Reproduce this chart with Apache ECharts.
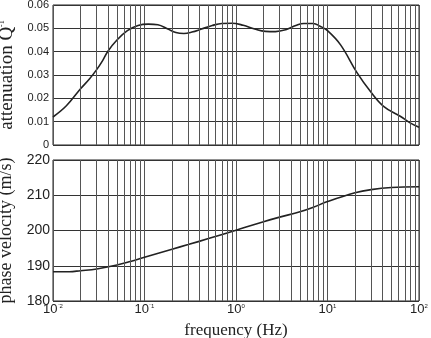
<!DOCTYPE html>
<html>
<head>
<meta charset="utf-8">
<script src="https://cdn.jsdelivr.net/npm/echarts@6/dist/echarts.min.js"></script>
<style>
  html, body { margin: 0; padding: 0; background: #fff; }
  #chart { width: 431px; height: 338px; }
</style>
</head>
<body>
<div id="chart"></div>
<script>
// frequency (Hz) / attenuation Q^-1
const attFreq = [0.01, 0.014, 0.02, 0.025, 0.03, 0.035, 0.04, 0.05, 0.065, 0.085, 0.11, 0.14, 0.18, 0.22, 0.27, 0.33, 0.42, 0.55, 0.7, 0.9, 1.2, 1.6, 2.1, 2.7, 3.5, 4.5, 5.5, 7, 8.3, 10, 13.9, 21, 29.5, 41, 63, 80, 100];
const attValue = [0.012, 0.0168, 0.0241, 0.0283, 0.0323, 0.0363, 0.0403, 0.045, 0.049, 0.0512, 0.0518, 0.0515, 0.0497, 0.0482, 0.0478, 0.0484, 0.0497, 0.0512, 0.0521, 0.0522, 0.0513, 0.0497, 0.0487, 0.0486, 0.0494, 0.0512, 0.0521, 0.0521, 0.0509, 0.049, 0.0429, 0.031, 0.0229, 0.0166, 0.0122, 0.0095, 0.0076];

// frequency (Hz) / phase velocity (m/s), bottom panel
const velFreq = [0.01, 0.015, 0.02, 0.03, 0.05, 0.07, 0.1, 0.2, 0.3, 0.5, 1, 2, 3, 5, 7, 10, 20, 30, 50, 100];
const velValue = [188.3, 188.3, 188.6, 189.1, 190.2, 191.2, 192.4, 194.7, 196.0, 197.7, 200.1, 202.5, 203.8, 205.3, 206.6, 208.2, 210.7, 211.6, 212.2, 212.4];

// grid lines between decades
const decades = [0.01, 0.1, 1, 10];
const minorMult = [2, 3, 4, 5, 6, 7, 8, 9];

const minorLines = [];
decades.forEach(d => minorMult.forEach(m => minorLines.push({ xAxis: d * m })));

const gridColor = '#555';
const serif = '"Liberation Serif", "DejaVu Serif", serif';
const sans = '"Liberation Sans", Arial, sans-serif';

function pairs(xs, ys) {
  return xs.map((x, i) => [x, ys[i]]);
}

function minorSeries(idx) {
  return {
    type: 'line',
    xAxisIndex: idx,
    yAxisIndex: idx,
    data: [],
    silent: true,
    markLine: {
      silent: true,
      symbol: ['none', 'none'],
      animation: false,
      label: { show: false },
      lineStyle: { color: gridColor, width: 1, type: 'solid' },
      data: minorLines
    }
  };
}

const xBase = {
  type: 'log',
  logBase: 10,
  min: 0.01,
  max: 100,
  axisLine: { show: false },
  axisTick: { show: false },
  splitLine: { show: true, lineStyle: { color: gridColor, width: 1 } }
};

const chart = echarts.init(document.getElementById('chart'));
chart.setOption({
  animation: false,
  grid: [
    { left: 53, right: 12, top: 5, height: 140, show: true, borderColor: '#222', borderWidth: 1, outerBoundsMode: 'none' },
    { left: 53, right: 12, top: 160, height: 141, show: true, borderColor: '#222', borderWidth: 1, outerBoundsMode: 'none' }
  ],
  xAxis: [
    Object.assign({}, xBase, { gridIndex: 0, axisLabel: { show: false } }),
    Object.assign({}, xBase, {
      gridIndex: 1,
      name: 'frequency (Hz)',
      nameLocation: 'middle',
      nameGap: 21,
      nameTextStyle: { fontFamily: serif, fontSize: 17, color: '#222' },
      axisLabel: {
        margin: 2,
        fontFamily: sans,
        fontSize: 13,
        color: '#222',
        formatter: v => '10{s|' + Math.round(Math.log10(v)).toString().replace('-', '⁻') + '}',
        rich: { s: { fontSize: 6, verticalAlign: 'top', padding: [0, 0, 6, 0], fontFamily: sans, color: '#222' } }
      }
    })
  ],
  yAxis: [
    {
      gridIndex: 0,
      type: 'value',
      min: 0,
      max: 0.06,
      interval: 0.01,
      name: 'attenuation Q{s|-1}',
      nameLocation: 'middle',
      nameGap: 31,
      nameTextStyle: {
        fontFamily: serif, fontSize: 19, color: '#222',
        rich: { s: { fontFamily: serif, fontSize: 8, color: '#222', padding: [0, 0, 10, 0] } }
      },
      axisLine: { show: false },
      axisTick: { show: false },
      axisLabel: { margin: 4, fontFamily: sans, fontSize: 11, color: '#222' },
      splitLine: { lineStyle: { color: '#333', width: 1 } }
    },
    {
      gridIndex: 1,
      type: 'value',
      min: 180,
      max: 220,
      interval: 10,
      name: 'phase velocity (m/s)',
      nameLocation: 'middle',
      nameGap: 32,
      nameTextStyle: { fontFamily: serif, fontSize: 18, color: '#222' },
      axisLine: { show: false },
      axisTick: { show: false },
      axisLabel: { margin: 3, fontFamily: sans, fontSize: 14, color: '#222' },
      splitLine: { lineStyle: { color: '#333', width: 1 } }
    }
  ],
  series: [
    minorSeries(0),
    minorSeries(1),
    {
      type: 'line',
      xAxisIndex: 0,
      yAxisIndex: 0,
      smooth: 0.4,
      showSymbol: false,
      lineStyle: { color: '#222', width: 1.6 },
      data: pairs(attFreq, attValue)
    },
    {
      type: 'line',
      xAxisIndex: 1,
      yAxisIndex: 1,
      smooth: 0.4,
      showSymbol: false,
      lineStyle: { color: '#222', width: 1.6 },
      data: pairs(velFreq, velValue)
    }
  ]
});
</script>
</body>
</html>
